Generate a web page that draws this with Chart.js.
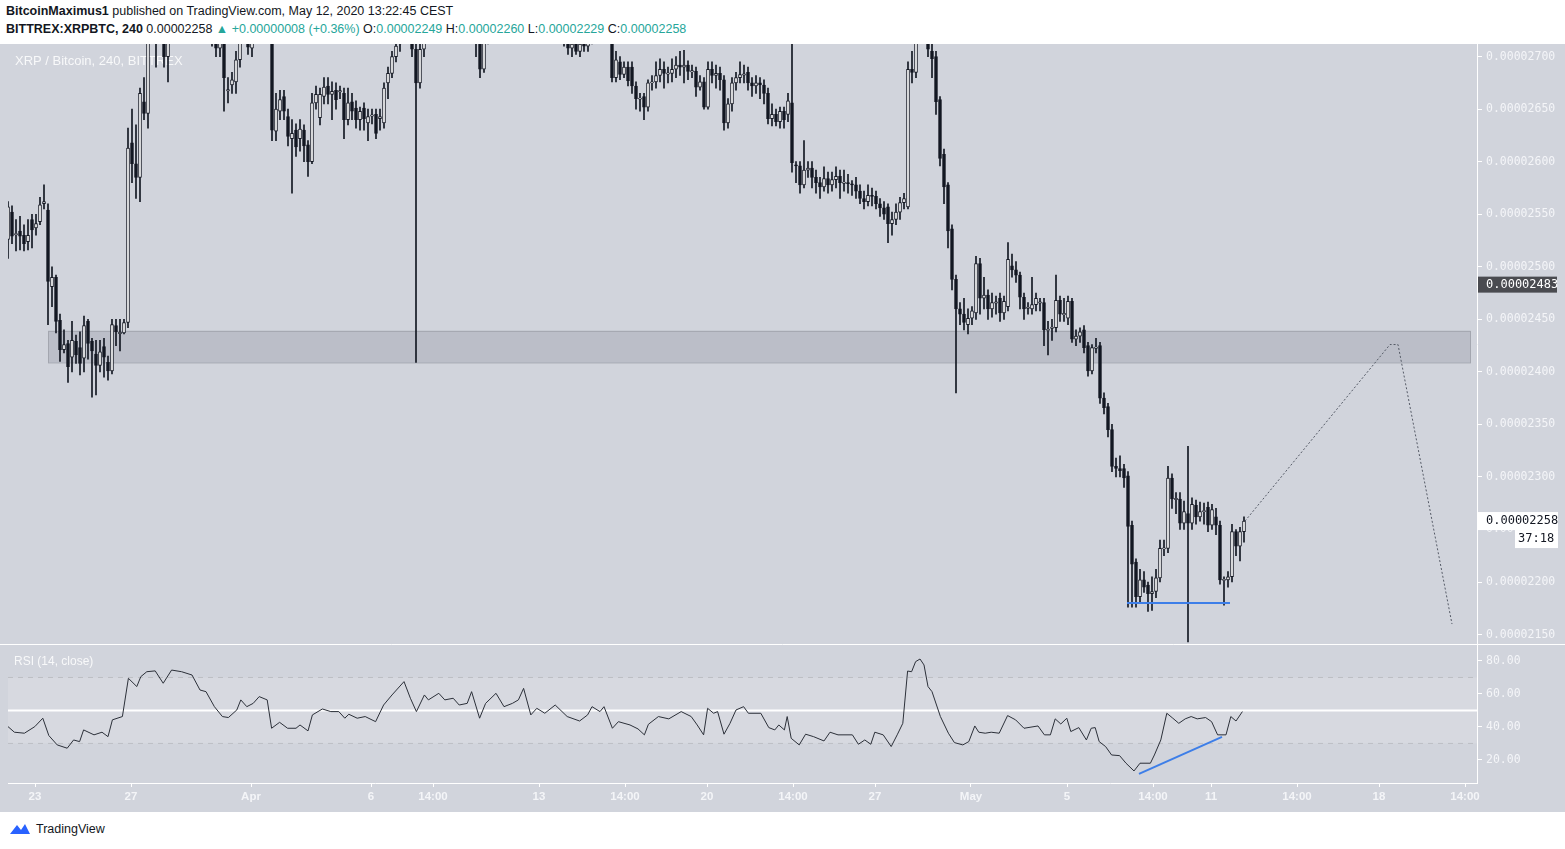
<!DOCTYPE html>
<html>
<head>
<meta charset="utf-8">
<script src="https://cdn.jsdelivr.net/npm/chart.js@4.4.1/dist/chart.umd.min.js"></script>
<style>
  body { margin: 0; width: 1565px; height: 849px; background: #fff; font-family: "Liberation Sans", Arial, sans-serif; overflow: hidden; position: relative; }
  #head1 { position: absolute; left: 6px; top: 4px; font-size: 12.5px; color: #131722; }
  #head2 { position: absolute; left: 6px; top: 22px; font-size: 12.5px; color: #131722; }
  #head2 .g { color: #26a69a; }
  #pane { position: absolute; left: 0; top: 44px; width: 1565px; height: 768px; background: #d1d4dc; }
  #priceBox { position: absolute; left: 0; top: 44px; width: 1565px; height: 600px; }
  #rsiBox { position: absolute; left: 0; top: 644px; width: 1565px; height: 168px; }
  #logo { position: absolute; left: 8px; top: 822px; font-size: 12.5px; color: #131722; display: flex; align-items: center; gap: 4px; }
</style>
</head>
<body>
<div id="head1"><b>BitcoinMaximus1</b> published on TradingView.com, May 12, 2020 13:22:45 CEST</div>
<div id="head2"><b>BITTREX:XRPBTC, 240</b> 0.00002258 <span class="g">▲ +0.00000008 (+0.36%)</span> O:<span class="g">0.00002249</span> H:<span class="g">0.00002260</span> L:<span class="g">0.00002229</span> C:<span class="g">0.00002258</span></div>
<div id="pane"></div>
<div id="priceBox"><canvas id="price"></canvas></div>
<div id="rsiBox"><canvas id="rsi"></canvas></div>
<div id="logo"><svg width="24" height="14" viewBox="0 0 24 14"><path d="M2 12 L9 3 L13 8 L17 2 L22 12 Z" fill="#2962ff"/></svg>TradingView</div>
<script>
// prices in units of 1e-8 BTC, one candle per 4h, index 0 = Mar 21 21:00
const opens = [2526,2552,2531,2534,2530,2524,2545,2537,2543,2560,
2554,2481,2490,2449,2421,2427,2414,2429,2423,2413,
2448,2429,2417,2406,2424,2409,2401,2444,2437,2437,
2447,2618,2598,2585,2657,2646,2735,2745,2725,2740,
2700,2738,2750,2760,2745,2755,2770,2760,2748,2755,
2740,2730,2725,2708,2713,2668,2673,2676,2697,2730,
2740,2708,2730,2745,2750,2740,2735,2629,2648,2662,
2643,2622,2630,2622,2630,2616,2600,2656,2642,2662,
2672,2664,2668,2667,2665,2640,2657,2651,2640,2651,
2637,2644,2645,2641,2637,2675,2684,2700,2712,2730,
2740,2745,2707,2675,2707,2740,2755,2770,2760,2775,
2765,2780,2770,2760,2768,2750,2745,2735,2720,2688,
2720,2740,2755,2760,2748,2765,2775,2770,2760,2770,
2780,2772,2765,2755,2760,2750,2740,2735,2730,2725,
2720,2708,2712,2705,2712,2710,2720,2730,2740,2745,
2735,2725,2680,2695,2683,2690,2690,2672,2660,2662,
2652,2675,2676,2682,2688,2684,2684,2688,2692,2690,
2692,2686,2686,2671,2676,2652,2688,2682,2684,2678,
2637,2655,2675,2680,2683,2685,2675,2672,2675,2673,
2665,2641,2645,2638,2648,2645,2656,2597,2596,2578,
2592,2594,2585,2580,2576,2584,2578,2583,2586,2580,
2580,2579,2578,2572,2565,2562,2568,2567,2560,2556,
2557,2541,2545,2552,2561,2557,2688,2685,2730,2750,
2735,2705,2700,2659,2607,2578,2536,2488,2460,2455,
2445,2451,2456,2503,2470,2473,2460,2466,2470,2456,
2462,2501,2497,2492,2471,2461,2460,2464,2466,2466,
2440,2442,2442,2468,2455,2451,2467,2431,2434,2440,
2425,2401,2423,2425,2375,2367,2345,2310,2308,2308,
2301,2254,2219,2186,2202,2197,2189,2191,2204,2232,
2232,2299,2279,2279,2256,2265,2256,2273,2262,2267,
2271,2254,2262,2254,2202,2202,2205,2248,2234,2248];
const closes = [2557,2529,2531,2529,2522,2530,2535,2541,2559,2562,
2486,2490,2448,2421,2426,2405,2430,2416,2408,2444,
2427,2420,2406,2419,2414,2401,2445,2438,2437,2447,
2613,2598,2585,2665,2646,2735,2745,2725,2740,2700,
2738,2750,2760,2745,2755,2770,2760,2748,2755,2740,
2730,2725,2708,2713,2680,2668,2678,2697,2730,2740,
2709,2730,2745,2750,2740,2735,2630,2650,2659,2648,
2624,2627,2614,2631,2615,2600,2656,2664,2664,2671,
2664,2667,2659,2667,2640,2656,2648,2640,2648,2641,
2643,2644,2627,2643,2670,2684,2700,2710,2730,2740,
2745,2707,2675,2707,2740,2755,2770,2760,2775,2765,
2780,2770,2760,2768,2750,2745,2735,2720,2688,2720,
2740,2755,2760,2748,2765,2775,2770,2760,2770,2780,
2772,2765,2755,2760,2750,2740,2735,2730,2725,2720,
2708,2712,2705,2712,2710,2720,2730,2740,2745,2735,
2725,2680,2697,2683,2690,2677,2672,2660,2660,2652,
2675,2676,2682,2688,2684,2684,2688,2692,2690,2692,
2686,2686,2671,2676,2652,2688,2682,2684,2678,2637,
2655,2675,2680,2683,2683,2675,2672,2675,2673,2665,
2641,2645,2638,2648,2640,2658,2599,2596,2578,2592,
2594,2585,2580,2576,2584,2578,2583,2586,2580,2580,
2579,2578,2572,2565,2562,2568,2567,2560,2556,2550,
2541,2545,2552,2561,2565,2688,2685,2730,2750,2735,
2707,2698,2657,2603,2576,2534,2488,2460,2455,2447,
2451,2458,2503,2470,2473,2460,2466,2466,2456,2467,
2507,2497,2492,2471,2460,2461,2464,2470,2466,2440,
2440,2442,2468,2455,2455,2467,2431,2434,2438,2423,
2401,2423,2423,2375,2366,2345,2310,2308,2306,2299,
2253,2217,2186,2202,2195,2189,2191,2204,2232,2232,
2299,2279,2279,2256,2267,2256,2274,2262,2267,2268,
2254,2269,2254,2202,2202,2205,2248,2234,2248,2258];
const highs = [2562,2558,2545,2548,2540,2545,2550,2550,2566,2578,
2560,2500,2492,2455,2440,2430,2448,2435,2438,2453,
2450,2432,2430,2430,2432,2415,2450,2450,2450,2450,
2632,2650,2635,2670,2680,2745,2760,2755,2750,2745,
2745,2760,2775,2770,2765,2780,2780,2770,2765,2760,
2750,2740,2735,2722,2718,2680,2685,2705,2740,2750,
2745,2740,2755,2765,2760,2750,2740,2665,2668,2668,
2650,2640,2636,2640,2635,2620,2665,2672,2670,2680,
2680,2676,2675,2672,2670,2670,2665,2658,2652,2656,
2650,2650,2650,2650,2675,2690,2705,2720,2740,2750,
2760,2755,2712,2720,2750,2765,2785,2780,2790,2785,
2795,2790,2780,2778,2775,2760,2750,2740,2725,2730,
2750,2765,2770,2770,2775,2785,2785,2780,2780,2790,
2790,2780,2775,2770,2770,2760,2750,2745,2740,2735,
2725,2718,2718,2716,2720,2730,2740,2750,2755,2750,
2740,2730,2705,2700,2695,2695,2695,2676,2665,2665,
2678,2682,2695,2698,2695,2690,2698,2700,2705,2706,
2696,2692,2690,2682,2680,2695,2695,2692,2690,2682,
2660,2680,2685,2695,2692,2690,2680,2682,2680,2678,
2670,2655,2650,2652,2652,2665,2716,2600,2600,2620,
2600,2600,2592,2585,2595,2590,2590,2595,2592,2592,
2588,2582,2585,2578,2572,2578,2575,2572,2565,2562,
2560,2552,2560,2566,2570,2695,2705,2740,2765,2760,
2740,2712,2705,2662,2612,2580,2540,2492,2466,2470,
2460,2462,2510,2508,2490,2478,2475,2472,2475,2472,
2523,2512,2505,2495,2475,2466,2490,2475,2470,2470,
2448,2450,2492,2472,2470,2472,2470,2440,2442,2444,
2428,2426,2432,2428,2380,2370,2350,2318,2320,2312,
2305,2258,2222,2212,2210,2200,2205,2212,2240,2240,
2310,2303,2285,2285,2277,2329,2280,2278,2276,2275,
2276,2274,2270,2258,2205,2210,2255,2250,2252,2262];
const lows = [2508,2522,2515,2516,2515,2516,2518,2530,2540,2555,
2445,2462,2437,2410,2418,2390,2400,2408,2397,2400,
2412,2376,2378,2400,2395,2392,2398,2425,2420,2436,
2442,2580,2565,2562,2640,2632,2720,2690,2715,2690,
2676,2730,2740,2735,2738,2745,2750,2740,2738,2730,
2720,2710,2700,2700,2648,2656,2665,2665,2690,2725,
2702,2700,2722,2735,2730,2720,2620,2620,2640,2640,
2615,2570,2605,2610,2600,2586,2598,2650,2635,2655,
2655,2640,2650,2660,2622,2635,2640,2632,2630,2630,
2620,2636,2622,2630,2632,2660,2680,2695,2705,2720,
2735,2700,2409,2670,2700,2735,2745,2750,2752,2755,
2760,2760,2745,2750,2740,2735,2720,2700,2680,2685,
2712,2730,2745,2738,2740,2755,2760,2750,2750,2760,
2762,2755,2745,2745,2740,2730,2725,2720,2715,2710,
2702,2700,2702,2700,2705,2705,2712,2720,2730,2725,
2715,2676,2676,2678,2680,2672,2665,2650,2648,2640,
2648,2668,2670,2676,2670,2675,2676,2680,2682,2675,
2678,2680,2662,2668,2650,2650,2675,2670,2668,2630,
2632,2648,2668,2675,2675,2668,2662,2665,2660,2655,
2636,2634,2634,2632,2632,2638,2590,2580,2570,2575,
2585,2575,2570,2565,2572,2570,2572,2575,2565,2572,
2570,2568,2565,2560,2555,2558,2558,2555,2548,2545,
2523,2530,2540,2545,2555,2555,2675,2680,2720,2715,
2700,2680,2645,2596,2560,2518,2478,2380,2445,2440,
2436,2445,2450,2455,2460,2450,2452,2455,2448,2450,
2458,2490,2485,2460,2450,2455,2455,2458,2458,2425,
2416,2430,2438,2448,2448,2445,2428,2425,2428,2418,
2396,2398,2418,2370,2360,2338,2305,2300,2300,2290,
2176,2176,2176,2180,2190,2172,2173,2185,2200,2225,
2228,2270,2265,2250,2250,2143,2250,2255,2258,2255,
2248,2250,2245,2198,2178,2195,2200,2225,2220,2238];

// RSI(14) readings, positions in candle index units
const rsiIdx = [0,1.6,4.1,6.7,8.7,10.2,12.3,14.8,16.4,17.9,18.9,21.5,23.5,25,26.1,28.6,30.1,32.2,33.2,34.7,
36.8,38.8,40.9,43.4,46,48,49.5,51.6,53.6,55.1,57.2,58.2,59.7,61.3,62.8,64.8,65.9,67.9,69.9,72,
73,75,76.1,78.6,80.7,82.7,84.2,85.2,87.3,89.3,91.9,93.9,96,99,100.6,102.1,104.1,105.1,107.7,109.2,
111.3,112.8,114.8,115.9,117.9,119.4,122,124,126.1,127.6,128.9,130.7,132.2,134.2,136.8,139.8,142.9,144.9,146,148,
149,151.1,152.6,155.5,157.5,159.1,160.1,162.6,165.2,168.3,170.8,172.3,173.9,174.9,176.4,177.4,179,180.5,182,183.9,
185.1,188.2,190.2,191.7,192.7,194.1,194.8,195.8,197.8,199.4,201.4,204,205.5,207.5,211.1,212.6,214.2,215.7,216.7,218.8,
220.8,222.3,223.7,224.9,225.9,226.9,228,229,230,231,233.1,235.1,236.6,238.7,240.2,241.7,242.7,244.3,245.8,247.8,
249.9,251.9,254,257.5,259.1,260.6,261.8,263.2,264.7,265.7,267.7,269.6,270.8,271.8,272.8,274.4,275.9,277.9,279.5,281.5,
283,285.6,286.6,288.2,289.7,291.2,292.7,294.3,295.8,297.3,299.4,300.9,302.4,304.5,305.7,307,308.6];
const rsiVal = [40.2,36.8,36.2,40.2,45.3,34.8,29.1,27.1,32.1,31.1,38.2,35.2,36.8,34.1,44.3,46.3,69.5,64.5,70.5,73.5,
74,66.5,74.5,73.5,71.5,62.4,61.4,52.3,46.3,45.7,50.3,56.4,52.3,54.3,58.4,56.4,39.2,42.8,39.2,39.2,
41.2,37.6,47.3,50.9,49.3,49.3,45.3,47.7,45.3,46.3,43.2,53.3,59.4,67.5,57.4,49.3,59.4,56.4,60.4,56.4,
57.4,53.3,54.3,61.4,45.3,54.3,60.4,52.3,54.3,56.4,63.4,47.3,51.3,48.3,53.3,46.3,43.6,47.3,52.3,49.3,
52.3,39.2,43.2,41.2,38.8,35.2,41.6,46.3,44.9,49.3,46.3,41.2,35.2,51.3,48.3,49.3,35.6,42.2,50.3,52.3,
48.3,48.3,39.6,38.2,41.2,38.2,46.3,33.1,29.1,35.6,34.1,31.5,36.8,35.2,35.2,29.5,32.1,29.5,36.8,35.2,
28.1,35.2,42.2,73.9,73.5,79.6,81.2,77.6,64.5,61.4,46.3,36.2,30.5,29.1,31.1,40.6,36.8,36.2,36.8,36.2,
46.9,44.3,39.2,40.6,35.2,35.2,44.9,41.8,45.3,37.2,39.6,32.1,39.2,39.6,31.1,28.1,23.0,22.6,18.0,13.3,
18.0,18.0,23.0,32.1,48.3,45.3,42.2,44.9,46.3,44.9,45.7,43.2,35.2,35.2,46.3,43.6,49.3];

// x axis tick positions (candle index) and labels
const tickIdx = [6.75,30.75,60.75,90.75,106.25,132.75,154.25,174.75,196.25,216.75,240.75,264.75,286.25,300.75,322.25,342.75,364.25];
const tickLabels = ['23','27','Apr','6','14:00','13','14:00','20','14:00','27','May','5','14:00','11','14:00','18','14:00'];

// drawings
const zone = { from: 10, to: 365.5, low: 2409, high: 2439 };
const projection = [[309.25,2258],[345.5,2426],[347.5,2426],[361,2160]];
const supportLine = [[279.75,2180],[305.5,2180]];
const rsiTrend = [[282.75,11.5],[303.5,34]];
const lastPrice = 2258, markPrice = 2483;

const X_MIN = 0, X_MAX = 367.25, AXIS_W = 88;
const BG = '#d1d4dc', DARK = '#131722', AXIS_TXT = '#f4f5f8';
const fmt = v => '0.0000' + String(Math.round(v)).padStart(4, '0');

const wicks = opens.map((o, i) => ({ x: i, y: [lows[i], highs[i]] }));
const bodies = opens.map((o, i) => {
  let lo = Math.min(o, closes[i]), hi = Math.max(o, closes[i]);
  if (hi - lo < 1) { lo -= 0.6; hi += 0.6; }
  return { x: i, y: [lo, hi] };
});
const bodyColors = opens.map((o, i) => closes[i] >= o ? '#ffffff' : DARK);

const zonePlugin = {
  id: 'zone',
  beforeDatasetsDraw(chart) {
    const { ctx, scales: { x, y } } = chart;
    const x0 = x.getPixelForValue(zone.from), x1 = x.getPixelForValue(zone.to);
    const y0 = y.getPixelForValue(zone.high), y1 = y.getPixelForValue(zone.low);
    ctx.save();
    ctx.fillStyle = 'rgba(160,163,175,0.45)';
    ctx.fillRect(x0, y0, x1 - x0, y1 - y0);
    ctx.strokeStyle = '#a3a6af';
    ctx.lineWidth = 1;
    ctx.strokeRect(x0 + 0.5, y0 + 0.5, x1 - x0, y1 - y0);
    ctx.fillStyle = 'rgba(255,255,255,0.85)';
    ctx.font = '13px "Liberation Sans", Arial';
    ctx.fillText('XRP / Bitcoin, 240, BITTREX', 15, 21);
    ctx.restore();
  }
};
const priceLabels = {
  id: 'priceLabels',
  afterDraw(chart) {
    const { ctx, scales: { y }, chartArea } = chart;
    const left = chartArea.right + 1;
    ctx.save();
    ctx.font = '12px "DejaVu Sans Mono", monospace';
    ctx.textBaseline = 'middle';
    let py = y.getPixelForValue(markPrice);
    ctx.fillStyle = '#4a4b50';
    ctx.fillRect(left, py - 8, 79, 16);
    ctx.fillStyle = '#ffffff';
    ctx.fillText(fmt(markPrice), left + 8, py);
    py = y.getPixelForValue(lastPrice);
    ctx.fillStyle = '#ffffff';
    ctx.fillRect(left, py - 9, 80, 18);
    ctx.fillRect(left + 37, py + 9, 43, 18);
    ctx.fillStyle = DARK;
    ctx.fillText(fmt(lastPrice), left + 8, py);
    ctx.fillText('37:18', left + 40, py + 18);
    ctx.restore();
  }
};
const rsiBand = {
  id: 'rsiBand',
  beforeDatasetsDraw(chart) {
    const { ctx, scales: { x, y }, chartArea } = chart;
    const y70 = y.getPixelForValue(70), y30 = y.getPixelForValue(30), y50 = y.getPixelForValue(50);
    ctx.save();
    ctx.fillStyle = 'rgba(255,255,255,0.13)';
    ctx.fillRect(chartArea.left, y70, chartArea.width, y30 - y70);
    ctx.strokeStyle = '#bdbfc4';
    ctx.setLineDash([5, 5]);
    ctx.beginPath();
    ctx.moveTo(chartArea.left, y70); ctx.lineTo(chartArea.right, y70);
    ctx.moveTo(chartArea.left, y30); ctx.lineTo(chartArea.right, y30);
    ctx.stroke();
    ctx.setLineDash([]);
    ctx.strokeStyle = '#ffffff';
    ctx.lineWidth = 2;
    ctx.beginPath();
    ctx.moveTo(chartArea.left, y50); ctx.lineTo(chartArea.right, y50);
    ctx.stroke();
    ctx.lineWidth = 1;
    ctx.beginPath();
    ctx.moveTo(0, 0.5); ctx.lineTo(chart.width, 0.5);
    ctx.stroke();
    ctx.fillStyle = 'rgba(255,255,255,0.85)';
    ctx.font = '12px "Liberation Sans", Arial';
    ctx.fillText('RSI (14, close)', 14, 21);
    ctx.restore();
  }
};

const yAxisBase = {
  position: 'right',
  afterFit(s) { s.width = AXIS_W; s.paddingTop = 0; s.paddingBottom = 0; },
  grid: { drawOnChartArea: false, color: '#ffffff', tickLength: 5 },
  border: { color: '#ffffff' },
  ticks: { color: AXIS_TXT, font: { family: '"DejaVu Sans Mono", monospace', size: 11.5, lineHeight: 0.05 }, padding: 4 }
};

new Chart(document.getElementById('price'), {
  type: 'bar',
  data: {
    datasets: [
      { data: wicks, backgroundColor: DARK, barThickness: 1, grouped: false, order: 3 },
      { data: bodies, backgroundColor: bodyColors, borderColor: DARK, borderWidth: 1, borderSkipped: false, barThickness: 3, grouped: false, order: 2 },
      { type: 'line', data: projection.map(p => ({ x: p[0], y: p[1] })), borderColor: '#555a66', borderWidth: 1, borderDash: [2, 2], pointRadius: 0, order: 1 },
      { type: 'line', data: supportLine.map(p => ({ x: p[0], y: p[1] })), borderColor: '#3d7ee8', borderWidth: 2, pointRadius: 0, order: 0 }
    ]
  },
  options: {
    responsive: true, maintainAspectRatio: false, animation: false,
    layout: { padding: { left: 8, top: 0, bottom: 0, right: 0 } },
    plugins: { legend: { display: false }, tooltip: { enabled: false } },
    scales: {
      x: { type: 'linear', min: X_MIN, max: X_MAX, offset: false, display: false },
      y: { ...yAxisBase, min: 2141, max: 2712,
        afterBuildTicks(s) { s.ticks = [2150,2200,2250,2300,2350,2400,2450,2500,2550,2600,2650,2700].map(v => ({ value: v })); },
        ticks: { ...yAxisBase.ticks, callback: v => fmt(v) } }
    }
  },
  plugins: [zonePlugin, priceLabels]
});

new Chart(document.getElementById('rsi'), {
  type: 'line',
  data: {
    datasets: [
      { data: rsiIdx.map((x, i) => ({ x, y: rsiVal[i] })), borderColor: '#2b2f38', borderWidth: 1, pointRadius: 0, tension: 0 },
      { data: rsiTrend.map(p => ({ x: p[0], y: p[1] })), borderColor: '#3d7ee8', borderWidth: 2, pointRadius: 0 }
    ]
  },
  options: {
    responsive: true, maintainAspectRatio: false, animation: false,
    layout: { padding: { left: 8, top: 1, bottom: 0, right: 0 } },
    plugins: { legend: { display: false }, tooltip: { enabled: false } },
    scales: {
      x: { type: 'linear', min: X_MIN, max: X_MAX, offset: false,
        afterFit(s) { s.height = 29; },
        afterBuildTicks(s) { s.ticks = tickIdx.map(v => ({ value: v })); },
        grid: { drawOnChartArea: false, color: '#ffffff', tickLength: 4 },
        border: { color: '#ffffff' },
        ticks: { color: AXIS_TXT, font: { family: '"Liberation Sans", Arial', size: 11.5, weight: 'bold' }, maxRotation: 0, autoSkip: false,
          callback: (v, i) => tickLabels[i] } },
      y: { ...yAxisBase, min: 6, max: 89.7,
        afterBuildTicks(s) { s.ticks = [20,40,60,80].map(v => ({ value: v })); },
        ticks: { ...yAxisBase.ticks, callback: v => v.toFixed(2) } }
    }
  },
  plugins: [rsiBand]
});
</script>
</body>
</html>
